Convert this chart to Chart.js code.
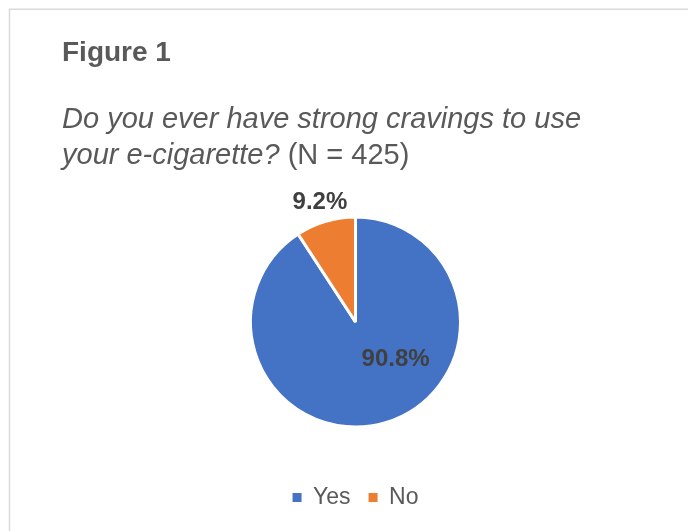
<!DOCTYPE html>
<html>
<head>
<meta charset="utf-8">
<script src="https://cdn.jsdelivr.net/npm/chart.js@4.4.1/dist/chart.umd.min.js"></script>
<style>
  html, body { margin: 0; padding: 0; background: #fff; }
  #wrap { width: 688px; height: 531px; }
</style>
</head>
<body>
<div id="wrap"><canvas id="cravingsChart" width="688" height="531"></canvas></div>
<script>
const answers = ['Yes', 'No'];
const shares = [90.8, 9.2];
const sliceColors = ['#4472C4', '#ED7D31'];
const figureLabel = 'Figure 1';
const questionLines = ['Do you ever have strong cravings to use', 'your e-cigarette?'];
const sampleNote = ' (N = 425)';

const FONT = '"Liberation Sans", Arial, sans-serif';

// frame + heading text
const headingPlugin = {
  id: 'heading',
  beforeDraw(chart) {
    const ctx = chart.ctx;
    ctx.save();
    ctx.strokeStyle = '#D9D9D9';
    ctx.lineWidth = 1.5;
    ctx.strokeRect(9.5, 9.25, chart.width + 20, chart.height + 20);

    ctx.fillStyle = '#595959';
    ctx.textBaseline = 'alphabetic';
    ctx.textAlign = 'left';
    ctx.font = 'bold 28px ' + FONT;
    ctx.fillText(figureLabel, 62, 61);

    ctx.font = 'italic 29px ' + FONT;
    ctx.fillText(questionLines[0], 62, 128);
    ctx.fillText(questionLines[1], 62, 164);
    const w = ctx.measureText(questionLines[1]).width;
    ctx.font = '29px ' + FONT;
    ctx.fillText(sampleNote, 62 + w, 164);
    ctx.restore();
  }
};

// percentage labels on the slices
const sliceLabels = {
  id: 'sliceLabels',
  afterDatasetsDraw(chart, args, opts) {
    const ctx = chart.ctx;
    const meta = chart.getDatasetMeta(0);
    ctx.save();
    ctx.font = 'bold 24px ' + FONT;
    ctx.fillStyle = '#404040';
    ctx.textAlign = 'center';
    ctx.textBaseline = 'middle';
    meta.data.forEach((arc, i) => {
      const p = opts.place[i];
      const mid = (arc.startAngle + arc.endAngle) / 2 + p.turn;
      const r = arc.outerRadius * p.r;
      const x = arc.x + Math.cos(mid) * r;
      const y = arc.y + Math.sin(mid) * r;
      ctx.fillText(shares[i].toFixed(1) + '%', x, y);
    });
    ctx.restore();
  }
};

new Chart(document.getElementById('cravingsChart'), {
  type: 'pie',
  data: {
    labels: answers,
    datasets: [{
      data: shares,
      backgroundColor: sliceColors,
      borderColor: '#ffffff',
      borderWidth: 3
    }]
  },
  options: {
    responsive: false,
    animation: false,
    layout: {
      padding: { left: 249, right: 226, top: 176, bottom: 12 }
    },
    plugins: {
      title: { display: false },
      tooltip: { enabled: false },
      legend: {
        position: 'bottom',
        labels: {
          boxWidth: 9,
          boxHeight: 9,
          padding: 18,
          color: '#595959',
          font: { family: FONT, size: 23 },
          // plain squares, without the white slice outline
          generateLabels: (chart) =>
            Chart.overrides.pie.plugins.legend.labels.generateLabels(chart)
              .map(item => Object.assign(item, { lineWidth: 0 }))
        }
      },
      sliceLabels: {
        place: [{ r: 0.52, turn: -0.535 }, { r: 1.19, turn: 0 }]
      }
    }
  },
  plugins: [headingPlugin, sliceLabels]
});
</script>
</body>
</html>
